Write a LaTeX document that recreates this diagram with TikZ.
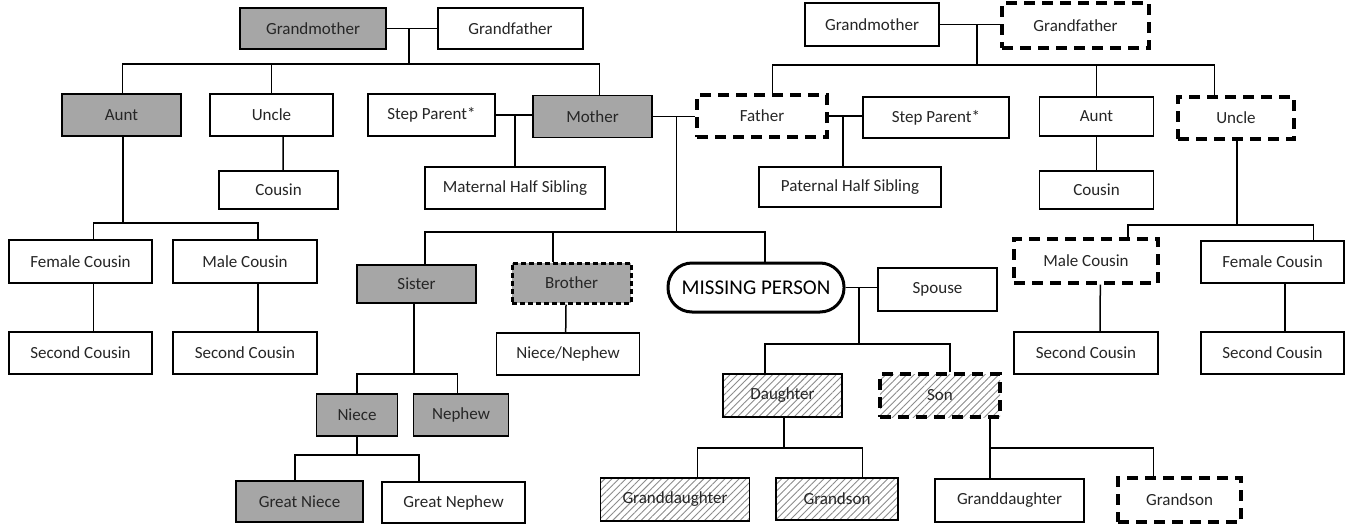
\documentclass[tikz,border=0pt]{standalone}
\usepackage{fontspec}
\setmainfont{Carlito}
\usetikzlibrary{calc,patterns.meta}

% points on the top / bottom edge of a box, as a fraction of its width
\newcommand{\nodetop}[2]{($(#1.north west)!#2!(#1.north east)$)}
\newcommand{\nodebot}[2]{($(#1.south west)!#2!(#1.south east)$)}

\tikzset{
  person/.style={draw, line width=1.2pt, fill=white, minimum height=42pt, inner sep=2pt,
    font=\fontsize{17}{20}\selectfont, text=black!85},
  kin/.style={person, fill=black!35},
  hatched/.style={person, pattern={Lines[angle=45,distance=5pt,line width=0.9pt]}, pattern color=black!45},
  unsure/.style={line width=3.2pt, dash pattern=on 11pt off 7pt},
  shortdash/.style={line width=3pt, dash pattern=on 5pt off 3pt},
  missing/.style={person, rounded corners=24pt, line width=3pt, minimum width=176pt,
    minimum height=49pt, font=\fontsize{21}{24}\selectfont, text=black},
  link/.style={line width=1.5pt},
}

\begin{document}
\begin{tikzpicture}[x=1pt,y=-1pt]
  \useasboundingbox[fill=white] (0,0) rectangle (1348,525);

  % mother's side
  \node[kin, minimum width=146pt, minimum height=41pt] (gmM) at (313,28.5) {Grandmother};
  \node[person, minimum width=145pt, minimum height=41pt] (gfM) at (510.5,28.5) {Grandfather};
  \node[kin, minimum width=119pt] (auntM) at (121.5,115) {Aunt};
  \node[person, minimum width=123pt] (uncleM) at (271.5,115) {Uncle};
  \node[person, minimum width=119pt, minimum height=38pt] (cousinM) at (278.5,190) {Cousin};
  \node[person, minimum width=127pt] (stepM) at (431.5,115) {Step Parent*};
  \node[kin, minimum width=119pt] (mother) at (592.5,116.5) {Mother};
  \node[person, minimum width=180pt] (halfM) at (515,188) {Maternal Half Sibling};
  \node[person, minimum width=143pt, minimum height=43pt] (fcousM) at (80.5,261.5) {Female Cousin};
  \node[person, minimum width=144pt, minimum height=43pt] (mcousM) at (245,261.5) {Male Cousin};
  \node[person, minimum width=143pt] (scousF) at (80.5,353) {Second Cousin};
  \node[person, minimum width=144pt] (scousMl) at (245,353) {Second Cousin};

  % siblings
  \node[kin, minimum width=119pt, minimum height=38pt] (sister) at (416.5,284) {Sister};
  \node[kin, shortdash, minimum width=119pt, minimum height=40pt] (brother) at (571.5,283) {Brother};
  \node[person, minimum width=143pt] (nn) at (568,354) {Niece/Nephew};
  \node[kin, minimum width=81pt] (niece) at (357,415) {Niece};
  \node[kin, minimum width=95pt] (nephew) at (461,415) {Nephew};
  \node[kin, minimum width=127pt, minimum height=41pt] (gniece) at (299.5,501.5) {Great Niece};
  \node[person, minimum width=143pt, minimum height=41pt] (gnephew) at (453.5,502.5) {Great Nephew};

  % missing person and descendants
  \node[missing] (mp) at (756,287.5) {MISSING PERSON};
  \node[person, minimum width=119pt, minimum height=43pt] (spouse) at (937.5,289.5) {Spouse};
  \node[hatched, minimum width=119pt, minimum height=43pt] (daughter) at (782.5,395.5) {Daughter};
  \node[hatched, unsure, minimum width=120pt, minimum height=43pt] (son) at (940,395.5) {Son};
  \node[hatched, minimum width=149pt, minimum height=43pt] (gdD) at (675,499.5) {Granddaughter};
  \node[hatched, minimum width=122pt] (gsD) at (837,499) {Grandson};
  \node[person, minimum width=149pt, minimum height=43pt] (gdS) at (1009.5,500.5) {Granddaughter};
  \node[person, unsure, minimum width=123pt, minimum height=44pt] (gsS) at (1179.5,500) {Grandson};

  % father's side
  \node[person, minimum width=134pt, minimum height=43pt] (gmP) at (872,24.5) {Grandmother};
  \node[person, unsure, minimum width=147pt, minimum height=45pt] (gfP) at (1075.5,25.5) {Grandfather};
  \node[person, unsure, minimum width=130pt] (father) at (762,116) {Father};
  \node[person, minimum width=146pt, minimum height=41pt] (stepP) at (936,117.5) {Step Parent*};
  \node[person, minimum width=182pt, minimum height=40pt] (halfP) at (850,187) {Paternal Half Sibling};
  \node[person, minimum width=114pt, minimum height=39pt] (auntP) at (1096.5,116.5) {Aunt};
  \node[person, minimum width=114pt, minimum height=38pt] (cousinP) at (1096.5,190) {Cousin};
  \node[person, unsure, minimum width=116pt] (uncleP) at (1236,118) {Uncle};
  \node[person, unsure, minimum width=144pt, minimum height=44pt] (mcousP) at (1086,261) {Male Cousin};
  \node[person, minimum width=143pt] (fcousP) at (1272.5,262) {Female Cousin};
  \node[person, minimum width=144pt] (scousPm) at (1086,353) {Second Cousin};
  \node[person, minimum width=143pt] (scousPf) at (1272.5,353) {Second Cousin};

  % junctions under each couple / parent
  \coordinate (kidsGM) at (409,64);
  \coordinate (kidsAM) at (123,223);
  \coordinate (kidsMF) at (676.5,232);
  \coordinate (kidsS) at (414,374);
  \coordinate (kidsN) at (357,455);
  \coordinate (kidsMP) at (859,344);
  \coordinate (kidsD) at (784,448);
  \coordinate (kidsSo) at (990,448);
  \coordinate (kidsGP) at (977,65);
  \coordinate (cFS) at (843,116);
  \coordinate (kidsU) at (1237,225);

  % mother's side links
  \draw[link] (gmM) -- (gfM);
  \draw[link] (kidsGM) -- (kidsGM |- gmM.east);
  \draw[link] \nodetop{auntM}{.51} |- (kidsGM);
  \draw[link] (uncleM.north) |- (kidsGM);
  \draw[link] \nodetop{mother}{.56} |- (kidsGM);
  \draw[link] \nodebot{uncleM}{.593} -- \nodetop{cousinM}{.538};
  \draw[link] (stepM.east) -- (stepM.east -| mother.west);
  \draw[link] (halfM.north) -- (halfM.north |- stepM.east);
  \draw[link] (kidsAM) -- (kidsAM |- auntM.south);
  \draw[link] \nodetop{fcousM}{.59} |- (kidsAM);
  \draw[link] \nodetop{mcousM}{.59} |- (kidsAM);
  \draw[link] \nodebot{fcousM}{.59} -- \nodetop{scousF}{.59};
  \draw[link] \nodebot{mcousM}{.59} -- \nodetop{scousMl}{.59};

  % parents and siblings
  \draw[link] (mother.east) -- (mother.east -| father.west);
  \draw[link] (kidsMF) -- (kidsMF |- mother.east);
  \draw[link] \nodetop{sister}{.57} |- (kidsMF);
  \draw[link] \nodetop{brother}{.35} |- (kidsMF);
  \draw[link] \nodetop{mp}{.55} |- (kidsMF);
  \draw[link] \nodebot{brother}{.455} -- \nodetop{nn}{.484};
  \draw[link] (kidsS) -- (kidsS |- sister.south);
  \draw[link] (niece.north) |- (kidsS);
  \draw[link] \nodetop{nephew}{.466} |- (kidsS);
  \draw[link] (kidsN) -- (kidsN |- niece.south);
  \draw[link] \nodetop{gniece}{.465} |- (kidsN);
  \draw[link] \nodetop{gnephew}{.259} |- (kidsN);

  % missing person links
  \draw[link] (mp.east) -- (mp.east -| spouse.west);
  \draw[link] (kidsMP) -- (kidsMP |- mp.east);
  \draw[link] \nodetop{daughter}{.353} |- (kidsMP);
  \draw[link] \nodetop{son}{.583} |- (kidsMP);
  \draw[link] (kidsD) -- (kidsD |- daughter.south);
  \draw[link] \nodetop{gdD}{.65} |- (kidsD);
  \draw[link] \nodetop{gsD}{.705} |- (kidsD);
  \draw[link] (kidsSo) -- (kidsSo |- son.south);
  \draw[link] \nodetop{gdS}{.369} |- (kidsSo);
  \draw[link] \nodetop{gsS}{.293} |- (kidsSo);

  % father's side links
  \draw[link] (gmP.east) -- (gmP.east -| gfP.west);
  \draw[link] (kidsGP) -- (kidsGP |- gmP.east);
  \draw[link] \nodetop{father}{.577} |- (kidsGP);
  \draw[link] (auntP.north) |- (kidsGP);
  \draw[link] \nodetop{uncleP}{.319} |- (kidsGP);
  \draw[link] (father.east) -- (father.east -| stepP.west);
  \draw[link] (cFS) -- (cFS |- halfP.north);
  \draw[link] (auntP) -- (cousinP);
  \draw[link] (kidsU) -- (kidsU |- uncleP.south);
  \draw[link] \nodetop{mcousP}{.785} |- (kidsU);
  \draw[link] \nodetop{fcousP}{.783} |- (kidsU);
  \draw[link] \nodebot{mcousP}{.597} -- \nodetop{scousPm}{.597};
  \draw[link] \nodebot{fcousP}{.587} -- \nodetop{scousPf}{.587};
\end{tikzpicture}
\end{document}
